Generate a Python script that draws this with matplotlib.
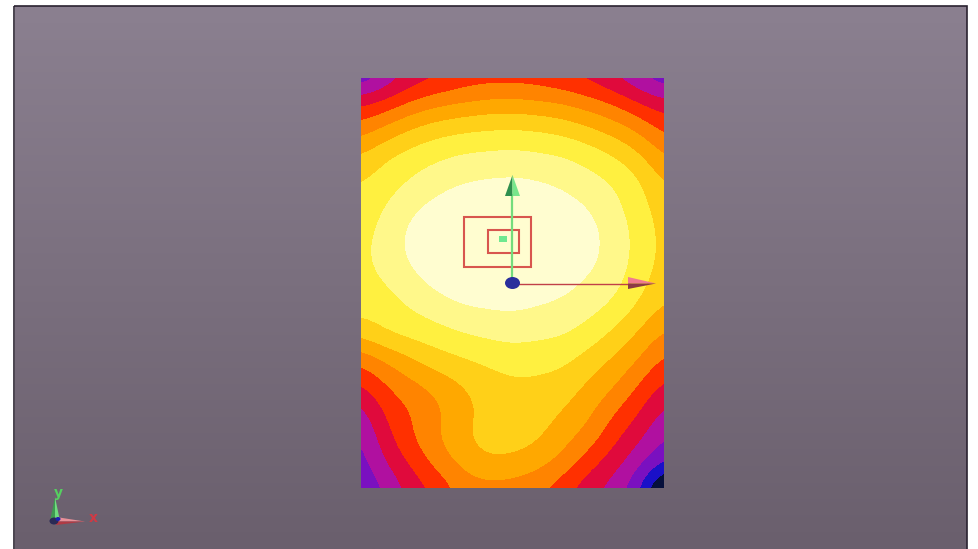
import matplotlib
matplotlib.use('Agg')
import matplotlib.pyplot as plt
import numpy as np
from matplotlib.colors import BoundaryNorm, ListedColormap, LinearSegmentedColormap
from matplotlib.patches import Ellipse, Polygon, Rectangle

# Field values, one list per column, top to bottom
col_00 = [2.1, 4.8, 6.5, 8.0, 8.95, 9.3, 9.6, 9.7, 9.6, 9.35, 8.3, 6.2, 4.9, 3.5, 2.9, 2.5, 2.1]
col_01 = [3.2, 5.4, 7.3, 8.9, 9.5, 10.05, 10.4, 10.5, 10.0, 9.5, 9.05, 7.1, 6.0, 5.3, 4.7, 4.05, 3.1]
col_02 = [4.4, 6.2, 8.1, 9.4, 10.1, 10.8, 11.3, 11.2, 10.7, 10.05, 9.3, 7.9, 6.7, 6.0, 6.0, 5.2, 4.4]
col_03 = [4.8, 6.75, 8.6, 9.8, 10.6, 11.3, 11.8, 11.8, 11.3, 10.5, 9.6, 8.55, 7.3, 6.75, 6.95, 6.4, 5.2]
col_04 = [5.3, 7.05, 8.85, 10.1, 10.95, 11.6, 12, 12, 11.6, 10.95, 9.95, 8.9, 7.95, 7.6, 7.85, 7.3, 6.4]
col_05 = [5.5, 7.3, 9.0, 10.2, 11.1, 11.7, 12, 12, 11.7, 11.05, 10.2, 9.2, 8.5, 8.3, 8.5, 7.9, 6.6]
col_06 = [5.5, 7.4, 9.05, 10.3, 11.15, 11.8, 12, 12, 11.7, 11.15, 10.35, 9.45, 8.8, 8.6, 8.5, 7.8, 6.5]
col_07 = [5.4, 7.2, 8.95, 10.15, 11.05, 11.6, 12, 12, 11.6, 10.95, 10.2, 9.4, 8.75, 8.5, 8.2, 7.4, 6.2]
col_08 = [5.1, 7.0, 8.7, 10.0, 10.8, 11.4, 11.85, 11.85, 11.35, 10.75, 10.1, 9.25, 8.55, 8.0, 7.4, 6.7, 5.4]
col_09 = [4.7, 6.5, 8.2, 9.6, 10.35, 11.0, 11.4, 11.35, 10.85, 10.35, 9.6, 8.6, 7.85, 7.3, 6.65, 5.45, 4.3]
col_10 = [4.0, 5.95, 7.6, 9.0, 9.95, 10.3, 10.6, 10.6, 10.4, 9.8, 8.8, 7.85, 7.15, 6.1, 5.3, 4.45, 3.6]
col_11 = [3.1, 5.05, 6.85, 8.2, 9.15, 9.45, 9.7, 9.7, 9.4, 8.8, 7.85, 7.0, 5.95, 5.1, 4.25, 3.3, 2.2]
col_12 = [2.2, 4.4, 5.7, 6.9, 7.85, 8.4, 8.6, 8.6, 8.4, 7.8, 6.8, 5.75, 4.75, 3.7, 3.0, 2.05, -1.0]

levels = [-5, 1, 2, 3, 4, 5, 6, 7, 8, 9, 10, 11, 20]
band_colors = ['#06103c', '#1a10c8', '#7a10c0', '#b010a0', '#e00a3c', '#ff3000',
               '#ff8400', '#ffa800', '#ffd018', '#fff040', '#fff88a', '#fffdd0']

field = np.column_stack([col_00, col_01, col_02, col_03, col_04, col_05, col_06,
                         col_07, col_08, col_09, col_10, col_11, col_12])

fig = plt.figure(figsize=(9.79, 5.49), dpi=100, facecolor='white')
# Axes in picture pixels
ax = fig.add_axes([0, 0, 1, 1])
ax.set_xlim(0, 979)
ax.set_ylim(549, 0)
ax.axis('off')

# Viewport background
bg = LinearSegmentedColormap.from_list('bg', ['#8b8090', '#6a5f6d'])
ax.imshow(np.linspace(0, 1, 256).reshape(-1, 1), cmap=bg, extent=(15, 967, 549, 6),
          aspect='auto', zorder=0)
ax.add_patch(Rectangle((14.5, 5.5), 952.5, 550, fill=False, ec='#2a2230', lw=1.2, zorder=1))

# Contour plate
x0, x1, y0, y1 = 361, 663.5, 78, 488
dx = (x1 - x0) / (field.shape[1] - 1)
dy = (y1 - y0) / (field.shape[0] - 1)
im = ax.imshow(field, cmap=ListedColormap(band_colors), norm=BoundaryNorm(levels, 12),
               extent=(x0 - dx / 2, x1 + dx / 2, y1 + dy / 2, y0 - dy / 2), aspect='auto',
               interpolation='bicubic', interpolation_stage='data', zorder=2)
im.set_clip_path(Rectangle((x0, y0), x1 - x0, y1 - y0, transform=ax.transData))
ax.set_xlim(0, 979)
ax.set_ylim(549, 0)

# Load squares
ax.add_patch(Rectangle((464, 217), 67, 50, fill=False, ec='#d8564e', lw=1.5, zorder=3))
ax.add_patch(Rectangle((488, 230), 31, 23, fill=False, ec='#d8564e', lw=1.5, zorder=3))
ax.add_patch(Rectangle((499, 236), 8, 6, fc='#70e890', ec='none', zorder=3))

# Big y arrow
ax.plot([512.5, 512.5], [283, 195], color='#74dc7c', lw=1.6, zorder=4)
ax.add_patch(Polygon([(512.5, 175), (505, 196), (512.5, 196)], fc='#2f8f4e', ec='none', zorder=5))
ax.add_patch(Polygon([(512.5, 175), (520, 196), (512.5, 196)], fc='#78e68c', ec='none', zorder=5))

# Big x arrow
ax.plot([512, 630], [283.5, 283.5], color='#c04048', lw=1.0, zorder=4)
ax.add_patch(Polygon([(656, 283.5), (628, 277), (628, 283.5)], fc='#f07a90', ec='none', zorder=5))
ax.add_patch(Polygon([(656, 283.5), (628, 289), (628, 283.5)], fc='#8c3a44', ec='none', zorder=5))

# Origin
ax.add_patch(Ellipse((512.5, 283), 15, 12, fc='#2a2f9c', ec='none', zorder=6))

# Small triad
ax.add_patch(Polygon([(55, 497), (50, 521), (55, 521)], fc='#3f9a52', ec='none', zorder=5))
ax.add_patch(Polygon([(55, 497), (60, 521), (55, 521)], fc='#6fdc7e', ec='none', zorder=5))
ax.add_patch(Polygon([(85, 521.5), (56, 517), (56, 521.5)], fc='#e89098', ec='none', zorder=5))
ax.add_patch(Polygon([(85, 521.5), (56, 525), (56, 521.5)], fc='#b03a44', ec='none', zorder=5))
ax.add_patch(Ellipse((54, 521), 9, 7, fc='#2a2a55', ec='none', zorder=6))
ax.add_patch(Ellipse((58, 519), 5, 4, fc='#1a20b0', ec='none', zorder=6))
ax.text(58, 493.5, 'y', color='#55d060', fontsize=10, fontweight='bold', ha='center', va='center')
ax.text(93, 518.5, 'x', color='#d03a44', fontsize=10, fontweight='bold', ha='center', va='center')

fig.savefig('out.png', dpi=100)
